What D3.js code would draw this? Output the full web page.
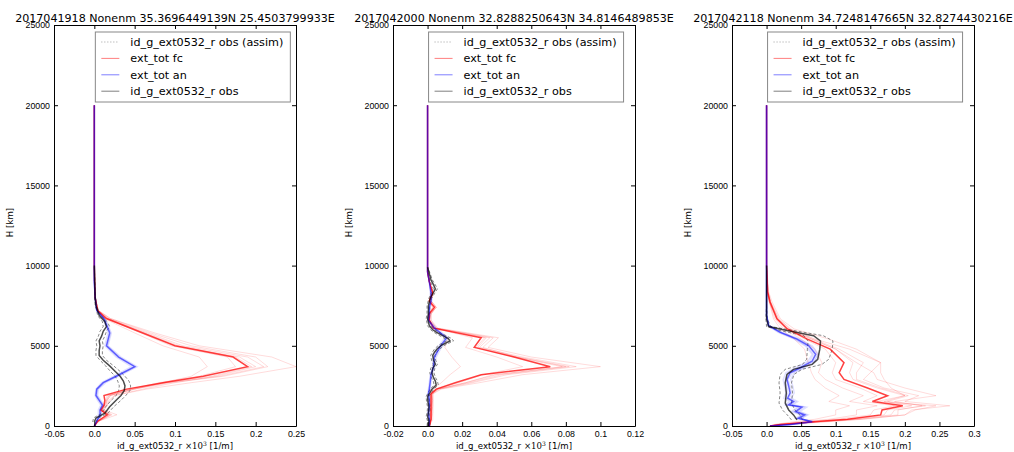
<!DOCTYPE html>
<html>
<head>
<meta charset="UTF-8">
<title>ext profiles</title>
<script src="https://d3js.org/d3.v7.min.js"></script>
<style>
  body { margin: 0; padding: 0; background: #fff; }
  svg { display: block; font-family: "DejaVu Sans", sans-serif; }
  .tick text { font-size: 8.8px; fill: #000; }
  .domain { stroke: #000; stroke-width: 1; }
</style>
</head>
<body>
<div id="chart"></div>
<script>
// ---- panel titles / axes ----
const titles = [
  "2017041918 Nonenm 35.3696449139N 25.4503799933E",
  "2017042000 Nonenm 32.8288250643N 34.8146489853E",
  "2017042118 Nonenm 34.7248147665N 32.8274430216E"
];
const xDomains = [[-0.05, 0.25], [-0.02, 0.12], [-0.05, 0.3]];
const p1XTicks = [-0.05, 0, 0.05, 0.1, 0.15, 0.2, 0.25];
const p1XLabels = ["-0.05", "0.0", "0.05", "0.1", "0.15", "0.2", "0.25"];
const p2XTicks = [-0.02, 0, 0.02, 0.04, 0.06, 0.08, 0.1, 0.12];
const p2XLabels = ["-0.02", "0.0", "0.02", "0.04", "0.06", "0.08", "0.1", "0.12"];
const p3XTicks = [-0.05, 0, 0.05, 0.1, 0.15, 0.2, 0.25, 0.3];
const p3XLabels = ["-0.05", "0.0", "0.05", "0.1", "0.15", "0.2", "0.25", "0.3"];
const yTicks = [0, 5000, 10000, 15000, 20000, 25000];
const legendLabels = ["id_g_ext0532_r obs (assim)", "ext_tot fc", "ext_tot an", "id_g_ext0532_r obs"];

// ---- panel 1 ----
const p1Heights = [0, 300, 700, 1000, 1300, 1600, 1900, 2300, 2700, 3100, 3700, 4300, 5000, 5800, 6700, 7200, 8000, 9000, 10000, 20000];
const p1FcMean = [0, 0.004, 0.016, 0.008, 0.012, 0.013, 0.012, 0.04, 0.085, 0.135, 0.19, 0.172, 0.10, 0.06, 0.015, 0.004, 0.001, 0.0005, 0, 0];
const p1FcMembers = [
  [0, 0.006, 0.02, 0.01, 0.014, 0.016, 0.02, 0.05, 0.085, 0.12, 0.14, 0.13, 0.085, 0.05, 0.012, 0.004, 0.001, 0, 0, 0],
  [0, 0.005, 0.028, 0.012, 0.016, 0.018, 0.025, 0.06, 0.1, 0.15, 0.2, 0.18, 0.1, 0.062, 0.016, 0.004, 0.001, 0, 0, 0],
  [0, 0.004, 0.018, 0.009, 0.013, 0.015, 0.018, 0.05, 0.09, 0.155, 0.21, 0.19, 0.11, 0.066, 0.018, 0.005, 0.001, 0, 0, 0],
  [0, 0.005, 0.02, 0.01, 0.015, 0.016, 0.02, 0.048, 0.095, 0.16, 0.215, 0.2, 0.12, 0.07, 0.02, 0.005, 0.001, 0, 0, 0],
  [0, 0.006, 0.022, 0.012, 0.016, 0.02, 0.025, 0.065, 0.12, 0.18, 0.25, 0.22, 0.13, 0.075, 0.02, 0.005, 0.001, 0, 0, 0],
  [0, 0.004, 0.015, 0.008, 0.012, 0.014, 0.016, 0.045, 0.08, 0.13, 0.175, 0.165, 0.095, 0.058, 0.014, 0.004, 0.001, 0, 0, 0],
  [0, 0.005, 0.018, 0.01, 0.013, 0.015, 0.018, 0.045, 0.088, 0.145, 0.195, 0.175, 0.105, 0.063, 0.017, 0.004, 0.001, 0, 0, 0]
];
const p1AnMean = [0, 0.003, 0.007, 0.007, 0.01, 0.006, 0.002, 0.003, 0.011, 0.027, 0.05, 0.03, 0.015, 0.019, 0.012, 0.003, 0.001, 0, 0, 0];
const p1AnMembers = [
  [0, 0.004, 0.009, 0.008, 0.012, 0.008, 0.004, 0.005, 0.014, 0.03, 0.053, 0.033, 0.017, 0.021, 0.013, 0.004, 0.001, 0, 0, 0],
  [0, 0.002, 0.005, 0.005, 0.008, 0.004, 0.001, 0.002, 0.009, 0.024, 0.046, 0.027, 0.013, 0.017, 0.011, 0.003, 0.001, 0, 0, 0],
  [0, 0.003, 0.008, 0.009, 0.011, 0.007, 0.003, 0.004, 0.012, 0.028, 0.051, 0.031, 0.016, 0.02, 0.012, 0.003, 0.001, 0, 0, 0]
];
const p1ObsHeights = [250, 500, 800, 1200, 1600, 1900, 2200, 2500, 2800, 3100, 3400, 3750, 4100, 4400, 4700, 5000, 5300, 5600, 5900, 6200, 6500, 6900, 7200, 7500, 8000, 9000, 10000];
const p1Obs = [0, 0.002, 0.013, 0.019, 0.027, 0.033, 0.037, 0.038, 0.036, 0.032, 0.026, 0.019, 0.011, 0.006, 0.006, 0.007, 0.006, 0.009, 0.011, 0.015, 0.013, 0.006, 0.004, 0.002, 0.001, 0.0005, 0];
const p1ObsErr = [0.002, 0.003, 0.004, 0.005, 0.006, 0.006, 0.007, 0.007, 0.007, 0.006, 0.006, 0.005, 0.004, 0.004, 0.004, 0.004, 0.004, 0.004, 0.004, 0.004, 0.003, 0.002, 0.001, 0.001, 0.0005, 0, 0];

// ---- panel 2 ----
const p2Heights = [0, 400, 800, 1200, 1600, 2000, 2300, 2700, 3200, 3700, 4300, 4900, 5500, 6100, 6600, 7000, 7400, 7800, 8300, 9000, 9600, 10000, 20000];
const p2FcMean = [0.001, 0.002, 0.002, 0.002, 0.002, 0.002, 0.005, 0.016, 0.031, 0.071, 0.05, 0.027, 0.031, 0.0035, 0.001, 0.001, 0.004, 0.001, 0.003, 0.001, 0, 0, 0];
const p2FcMembers = [
  [0.001, 0.003, 0.003, 0.003, 0.003, 0.003, 0.008, 0.03, 0.055, 0.1, 0.06, 0.035, 0.041, 0.006, 0.002, 0.002, 0.005, 0.002, 0.003, 0.001, 0, 0, 0],
  [0.001, 0.002, 0.003, 0.003, 0.003, 0.003, 0.007, 0.026, 0.046, 0.086, 0.055, 0.03, 0.036, 0.005, 0.002, 0.002, 0.005, 0.002, 0.003, 0.001, 0, 0, 0],
  [0.001, 0.002, 0.002, 0.003, 0.003, 0.003, 0.006, 0.024, 0.043, 0.082, 0.052, 0.029, 0.034, 0.005, 0.001, 0.002, 0.004, 0.001, 0.003, 0.001, 0, 0, 0],
  [0.001, 0.002, 0.002, 0.002, 0.003, 0.002, 0.006, 0.022, 0.04, 0.078, 0.05, 0.028, 0.033, 0.004, 0.001, 0.001, 0.004, 0.001, 0.003, 0.001, 0, 0, 0],
  [0.001, 0.002, 0.002, 0.002, 0.002, 0.002, 0.005, 0.018, 0.032, 0.055, 0.04, 0.022, 0.026, 0.004, 0.001, 0.001, 0.003, 0.001, 0.002, 0.001, 0, 0, 0],
  [0.001, 0.001, 0.002, 0.002, 0.002, 0.002, 0.003, 0.008, 0.013, 0.019, 0.014, 0.01, 0.012, 0.003, 0.001, 0.001, 0.003, 0.001, 0.002, 0.001, 0, 0, 0],
  [0.001, 0.002, 0.002, 0.002, 0.002, 0.002, 0.006, 0.022, 0.038, 0.08, 0.052, 0.032, 0.038, 0.005, 0.001, 0.002, 0.005, 0.002, 0.003, 0.001, 0, 0, 0]
];
const p2AnMean = [0.001, 0.001, 0.0005, 0.001, 0.001, 0.0005, 0.001, 0.0015, 0.002, 0.0035, 0.004, 0.007, 0.011, 0.004, 0.0005, 0.001, 0.001, 0.002, 0.002, 0.001, 0, 0, 0];
const p2AnMembers = [
  [0.001, 0.0015, 0.001, 0.0015, 0.0015, 0.001, 0.0015, 0.002, 0.0025, 0.004, 0.005, 0.008, 0.012, 0.005, 0.001, 0.0015, 0.0015, 0.0025, 0.0025, 0.001, 0, 0, 0],
  [0.001, 0.0005, 0, 0.0005, 0.0005, 0, 0.0005, 0.001, 0.0015, 0.003, 0.003, 0.006, 0.01, 0.003, 0, 0.0005, 0.0005, 0.0015, 0.0015, 0.001, 0, 0, 0]
];
const p2ObsHeights = [0, 300, 600, 900, 1200, 1500, 1850, 2100, 2300, 2550, 2800, 3000, 3300, 3600, 3850, 4100, 4400, 4600, 4800, 5050, 5300, 5450, 5650, 5850, 6000, 6250, 6700, 7000, 7500, 7950, 8250, 8550, 8800, 9100, 9500, 9900];
const p2Obs = [0.0005, 0.0008, 0, 0.0006, 0.0008, 0.0002, 0, 0.0015, 0.0025, 0.005, 0.0045, 0.0035, 0.0025, 0.003, 0.0045, 0.0035, 0.003, 0.004, 0.0055, 0.0083, 0.013, 0.012, 0.0085, 0.005, 0.003, 0.001, 0, 0.0005, 0.0005, 0.0015, 0.003, 0.0045, 0.0035, 0.002, 0.001, 0];
const p2ObsErr = [0.0008, 0.0008, 0.0008, 0.0008, 0.0008, 0.0008, 0.0008, 0.001, 0.001, 0.0012, 0.0012, 0.0012, 0.0012, 0.0012, 0.0012, 0.0012, 0.0012, 0.0012, 0.0015, 0.0018, 0.002, 0.002, 0.0018, 0.0015, 0.0012, 0.001, 0.0008, 0.0008, 0.0008, 0.0008, 0.001, 0.0012, 0.001, 0.0008, 0.0005, 0];

// ---- panel 3 ----
const p3FcHeights = [0, 100, 270, 420, 690, 1000, 1260, 1530, 1890, 2370, 2900, 3320, 3950, 4790, 5420, 6050, 6680, 7730, 8360, 10000, 20000];
const p3FcMean = [0.005, 0.02, 0.068, 0.117, 0.165, 0.167, 0.197, 0.153, 0.175, 0.146, 0.112, 0.105, 0.112, 0.092, 0.059, 0.03, 0.015, 0.005, 0.0015, 0, 0];
const p3FcMembers = [
  [0.005, 0.03, 0.09, 0.14, 0.2, 0.21, 0.265, 0.2, 0.22, 0.17, 0.14, 0.15, 0.165, 0.12, 0.07, 0.035, 0.018, 0.006, 0.002, 0, 0],
  [0.005, 0.025, 0.08, 0.13, 0.19, 0.19, 0.225, 0.185, 0.245, 0.2, 0.16, 0.155, 0.13, 0.1, 0.065, 0.032, 0.016, 0.005, 0.002, 0, 0],
  [0.004, 0.015, 0.05, 0.09, 0.13, 0.13, 0.16, 0.12, 0.14, 0.11, 0.085, 0.075, 0.08, 0.07, 0.05, 0.025, 0.012, 0.004, 0.001, 0, 0],
  [0.005, 0.02, 0.07, 0.12, 0.17, 0.175, 0.21, 0.17, 0.2, 0.16, 0.125, 0.12, 0.125, 0.1, 0.065, 0.03, 0.015, 0.005, 0.001, 0, 0],
  [0.004, 0.012, 0.04, 0.07, 0.1, 0.1, 0.12, 0.09, 0.105, 0.085, 0.07, 0.065, 0.06, 0.055, 0.04, 0.02, 0.01, 0.004, 0.001, 0, 0],
  [0.005, 0.022, 0.075, 0.125, 0.18, 0.185, 0.23, 0.175, 0.205, 0.165, 0.13, 0.13, 0.14, 0.105, 0.068, 0.034, 0.017, 0.006, 0.002, 0, 0],
  [0.005, 0.018, 0.06, 0.1, 0.15, 0.155, 0.185, 0.14, 0.16, 0.135, 0.1, 0.095, 0.1, 0.085, 0.055, 0.028, 0.014, 0.004, 0.001, 0, 0],
  [0.006, 0.028, 0.085, 0.135, 0.2, 0.215, 0.245, 0.16, 0.2, 0.18, 0.17, 0.165, 0.165, 0.13, 0.09, 0.04, 0.02, 0.008, 0.003, 0, 0]
];
const p3AnHeights = [0, 100, 270, 480, 690, 900, 1180, 1320, 1530, 1740, 2060, 2480, 2900, 3320, 3630, 4050, 4470, 5000, 5420, 5840, 6260, 6900, 10000, 20000];
const p3AnMean = [0.005, 0.034, 0.066, 0.046, 0.055, 0.042, 0.051, 0.032, 0.039, 0.0305, 0.034, 0.032, 0.0295, 0.034, 0.049, 0.066, 0.071, 0.061, 0.044, 0.02, 0.003, 0, 0, 0];
const p3AnMembers = [
  [0.005, 0.03, 0.06, 0.05, 0.06, 0.048, 0.058, 0.038, 0.045, 0.036, 0.04, 0.038, 0.035, 0.04, 0.055, 0.07, 0.075, 0.066, 0.048, 0.023, 0.004, 0, 0, 0],
  [0.005, 0.038, 0.07, 0.042, 0.05, 0.036, 0.045, 0.027, 0.033, 0.025, 0.028, 0.026, 0.024, 0.028, 0.042, 0.06, 0.066, 0.056, 0.04, 0.017, 0.002, 0, 0, 0],
  [0.005, 0.032, 0.064, 0.05, 0.058, 0.045, 0.054, 0.035, 0.042, 0.033, 0.036, 0.034, 0.031, 0.037, 0.052, 0.069, 0.073, 0.063, 0.046, 0.021, 0.003, 0, 0, 0],
  [0.005, 0.036, 0.068, 0.044, 0.052, 0.039, 0.048, 0.03, 0.036, 0.028, 0.031, 0.029, 0.027, 0.031, 0.046, 0.063, 0.068, 0.058, 0.042, 0.018, 0.002, 0, 0, 0]
];
const p3ObsHeights = [380, 690, 1000, 1430, 2060, 2690, 3210, 3530, 3840, 4160, 4790, 5300, 5630, 5950, 6200, 6680, 7500, 10000];
const p3Obs = [0.044, 0.039, 0.032, 0.027, 0.0286, 0.027, 0.0295, 0.039, 0.066, 0.074, 0.077, 0.078, 0.068, 0.0295, 0.003, 0, 0, 0];
const p3ObsErr = [0.008, 0.009, 0.009, 0.009, 0.009, 0.009, 0.01, 0.012, 0.014, 0.016, 0.018, 0.018, 0.014, 0.01, 0.003, 0.001, 0, 0];

const panels = [
  { title: titles[0], xDomain: xDomains[0], ticks: p1XTicks, labels: p1XLabels,
    fcH: p1Heights, fcMean: p1FcMean, fcMembers: p1FcMembers,
    anH: p1Heights, anMean: p1AnMean, anMembers: p1AnMembers,
    obsH: p1ObsHeights, obs: p1Obs, obsErr: p1ObsErr },
  { title: titles[1], xDomain: xDomains[1], ticks: p2XTicks, labels: p2XLabels,
    fcH: p2Heights, fcMean: p2FcMean, fcMembers: p2FcMembers,
    anH: p2Heights, anMean: p2AnMean, anMembers: p2AnMembers,
    obsH: p2ObsHeights, obs: p2Obs, obsErr: p2ObsErr },
  { title: titles[2], xDomain: xDomains[2], ticks: p3XTicks, labels: p3XLabels,
    fcH: p3FcHeights, fcMean: p3FcMean, fcMembers: p3FcMembers,
    anH: p3AnHeights, anMean: p3AnMean, anMembers: p3AnMembers,
    obsH: p3ObsHeights, obs: p3Obs, obsErr: p3ObsErr }
];

const width = 1014, height = 452;
const plotLefts = [54, 393, 732];
const plotW = 242, plotTop = 25, plotBottom = 426;

const svg = d3.select("#chart").append("svg").attr("width", width).attr("height", height);

const y = d3.scaleLinear().domain([0, 25000]).range([plotBottom, plotTop]);

panels.forEach((p, i) => {
  const left = plotLefts[i];
  const x = d3.scaleLinear().domain(p.xDomain).range([left, left + plotW]);
  const g = svg.append("g");

  g.append("defs").append("clipPath").attr("id", "clip" + i)
    .append("rect").attr("x", left).attr("y", plotTop).attr("width", plotW).attr("height", plotBottom - plotTop);

  const line = d3.line().x(d => x(d[0])).y(d => y(d[1]));
  const plot = g.append("g").attr("clip-path", `url(#clip${i})`);

  // fc ensemble members
  p.fcMembers.forEach(m => {
    plot.append("path").attr("d", line(d3.zip(m, p.fcH)))
      .attr("fill", "none").attr("stroke", "#ff0000").attr("stroke-opacity", 0.14).attr("stroke-width", 1);
  });
  // an ensemble members
  p.anMembers.forEach(m => {
    plot.append("path").attr("d", line(d3.zip(m, p.anH)))
      .attr("fill", "none").attr("stroke", "#0000ff").attr("stroke-opacity", 0.12).attr("stroke-width", 1.5);
  });
  // obs error (dashed)
  [-1, 1].forEach(s => {
    const pts = p.obs.map((v, k) => [v + s * p.obsErr[k], p.obsH[k]]);
    plot.append("path").attr("d", line(pts))
      .attr("fill", "none").attr("stroke", "#555").attr("stroke-opacity", 0.7)
      .attr("stroke-width", 1).attr("stroke-dasharray", "3,2");
  });
  // means
  plot.append("path").attr("d", line(d3.zip(p.fcMean, p.fcH)))
    .attr("fill", "none").attr("stroke", "#ff0000").attr("stroke-opacity", 0.75).attr("stroke-width", 1.5);
  plot.append("path").attr("d", line(d3.zip(p.anMean, p.anH)))
    .attr("fill", "none").attr("stroke", "#0000ff").attr("stroke-opacity", 0.6).attr("stroke-width", 1.5);
  plot.append("path").attr("d", line(d3.zip(p.obs, p.obsH)))
    .attr("fill", "none").attr("stroke", "#000").attr("stroke-opacity", 0.7).attr("stroke-width", 1.5);

  // axes, ticks pointing inward
  const fmt = v => p.labels[p.ticks.indexOf(v)];
  g.append("g").attr("transform", `translate(0,${plotBottom})`)
    .call(d3.axisBottom(x).tickValues(p.ticks).tickFormat(fmt).tickSizeInner(-4).tickSizeOuter(0).tickPadding(5));
  g.append("g").attr("transform", `translate(0,${plotTop})`)
    .call(d3.axisTop(x).tickValues(p.ticks).tickFormat("").tickSizeInner(-4).tickSizeOuter(0));
  g.append("g").attr("transform", `translate(${left},0)`)
    .call(d3.axisLeft(y).tickValues(yTicks).tickFormat(d3.format("d")).tickSizeInner(-4).tickSizeOuter(0).tickPadding(4));
  g.append("g").attr("transform", `translate(${left + plotW},0)`)
    .call(d3.axisRight(y).tickValues(yTicks).tickFormat("").tickSizeInner(-4).tickSizeOuter(0));
  g.selectAll(".tick line").attr("stroke", "#000");

  // title
  g.append("text").attr("x", left + plotW / 2).attr("y", 22)
    .attr("text-anchor", "middle").attr("font-size", 11.1).text(p.title);

  // axis labels
  const xl = g.append("text").attr("x", left + plotW / 2).attr("y", 449)
    .attr("text-anchor", "middle").attr("font-size", 8.6);
  xl.append("tspan").text("id_g_ext0532_r ");
  xl.append("tspan").attr("font-family", "DejaVu Serif").text("\u00d710");
  xl.append("tspan").attr("font-family", "DejaVu Serif").attr("font-size", 6).attr("dy", -3).text("3");
  xl.append("tspan").attr("dy", 3).text(" [1/m]");

  g.append("text").attr("transform", `translate(${left - 41},${(plotTop + plotBottom) / 2 - 3}) rotate(-90)`)
    .attr("text-anchor", "middle").attr("font-size", 8.6).text("H [km]");

  // legend
  const lx = x(0) + 1, ly = 32, lw = 195, lh = 70;
  const lg = g.append("g");
  lg.append("rect").attr("x", lx).attr("y", ly).attr("width", lw).attr("height", lh)
    .attr("fill", "#fff").attr("stroke", "#888").attr("stroke-width", 1);
  const styles = [
    { c: "#888", dash: "1,2", op: 0.8 },
    { c: "#ff0000", dash: null, op: 0.5 },
    { c: "#0000ff", dash: null, op: 0.5 },
    { c: "#000", dash: null, op: 0.5 }
  ];
  legendLabels.forEach((t, k) => {
    const yy = ly + 10 + k * 16.4;
    lg.append("line").attr("x1", lx + 6).attr("x2", lx + 24).attr("y1", yy).attr("y2", yy)
      .attr("stroke", styles[k].c).attr("stroke-opacity", styles[k].op).attr("stroke-width", 1)
      .attr("stroke-dasharray", styles[k].dash);
    lg.append("text").attr("x", lx + 35).attr("y", yy + 4).attr("font-size", 11.2).text(t);
  });
});
</script>
</body>
</html>
